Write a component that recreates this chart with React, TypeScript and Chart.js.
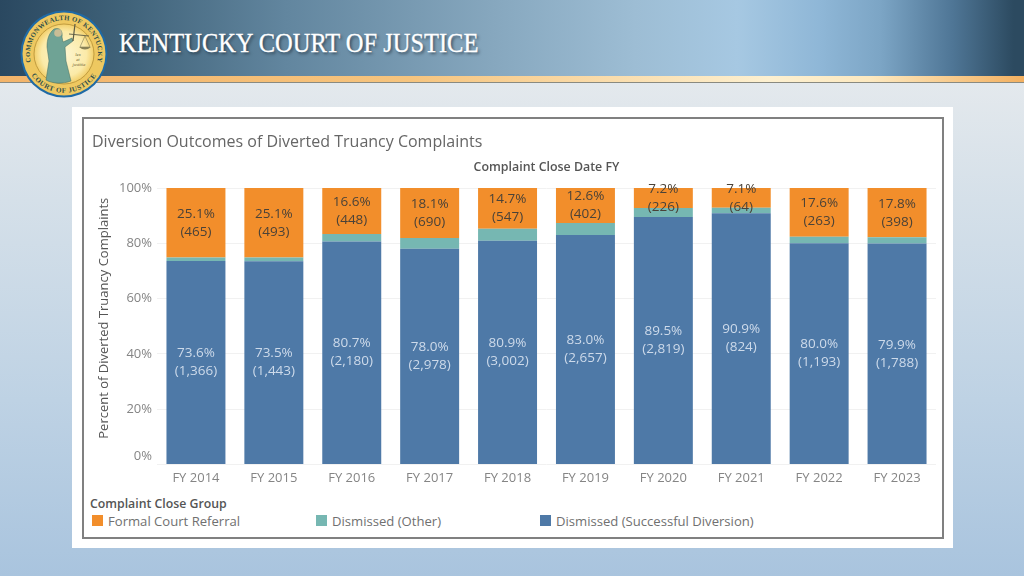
import React, { useEffect, useRef } from "react";
import { Chart, registerables } from "chart.js";

Chart.register(...registerables);

const categories = ["FY 2014", "FY 2015", "FY 2016", "FY 2017", "FY 2018", "FY 2019", "FY 2020", "FY 2021", "FY 2022", "FY 2023"];
const successPct = [73.6, 73.5, 80.7, 78.0, 80.9, 83.0, 89.5, 90.9, 80.0, 79.9];
const otherPct = [1.3, 1.4, 2.7, 3.9, 4.4, 4.4, 3.3, 2.0, 2.4, 2.3];
const formalPct = [25.1, 25.1, 16.6, 18.1, 14.7, 12.6, 7.2, 7.1, 17.6, 17.8];
const successCounts = ["1,366", "1,443", "2,180", "2,978", "3,002", "2,657", "2,819", "824", "1,193", "1,788"];
const formalCounts = ["465", "493", "448", "690", "547", "402", "226", "64", "263", "398"];
const yTicks = [0, 20, 40, 60, 80, 100];
const yAxisTitle = "Percent of Diverted Truancy Complaints";

const FONT = "'Open Sans', 'Noto Sans', sans-serif";

const segmentLabels = {
  id: "segmentLabels",
  afterDatasetsDraw(chart: any) {
    const ctx = chart.ctx;
    ctx.save();
    ctx.textAlign = "center";
    ctx.textBaseline = "middle";
    ctx.font = `13.5px ${FONT}`;
    chart.data.datasets.forEach((ds: any, di: number) => {
      if (!ds.counts) return;
      const meta = chart.getDatasetMeta(di);
      ctx.fillStyle = ds.labelColor;
      meta.data.forEach((bar: any, i: number) => {
        const cy = (bar.y + bar.base) / 2;
        ctx.fillText(`${ds.data[i].toFixed(1)}%`, bar.x, cy - 9);
        ctx.fillText(`(${ds.counts[i]})`, bar.x, cy + 9);
      });
    });
    // y-axis title: sits above the axis centre in the reference
    const y = chart.scales.y;
    ctx.translate(y.left + 12, (y.top + y.bottom) / 2 - 8);
    ctx.rotate(-Math.PI / 2);
    ctx.font = `13px ${FONT}`;
    ctx.fillStyle = "#555555";
    ctx.fillText(yAxisTitle, 0, 0);
    ctx.restore();
  },
};

function Logo() {
  return (
    <svg width="90" height="90" viewBox="0 0 90 90" style={{ position: "absolute", left: 19, top: 9 }}>
      <defs>
        <radialGradient id="inner" cx="50%" cy="50%" r="50%">
          <stop offset="0%" stopColor="#fdf6d2" />
          <stop offset="75%" stopColor="#fbeaa8" />
          <stop offset="100%" stopColor="#f2cf6a" />
        </radialGradient>
        <path id="topArc" d="M 15.5 62 A 34 34 0 1 1 74.5 62" />
        <path id="botArc" d="M 8.4 58.3 A 39 39 0 0 0 81.6 58.3" />
      </defs>
      <circle cx="45" cy="45" r="43.5" fill="#1f6aa5" />
      <circle cx="45" cy="45" r="41.5" fill="#eec860" />
      <circle cx="45" cy="45" r="30" fill="url(#inner)" stroke="#b58f35" strokeWidth="0.8" />
      <text fontFamily="'Liberation Serif', serif" fontSize="6.8" fill="#2f4f4a" fontWeight="bold" letterSpacing="0.3">
        <textPath href="#topArc" startOffset="50%" textAnchor="middle">COMMONWEALTH OF KENTUCKY</textPath>
      </text>
      <text fontFamily="'Liberation Serif', serif" fontSize="7" fill="#2f4f4a" fontWeight="bold" letterSpacing="0.6">
        <textPath href="#botArc" startOffset="50%" textAnchor="middle">COURT OF JUSTICE</textPath>
      </text>
      <path d="M35 20 C41 18 44 22 43 28 L44 33 L53 29 L54 32 L46 38 L47 52 L52 72 C44 75 34 75 27 71 L30 52 L28 38 C28 30 30 24 35 20 Z" fill="#6fa395" stroke="#3e6a60" strokeWidth="0.5" />
      <circle cx="39" cy="24" r="3.8" fill="#c9bd96" />
      <path d="M54 32 L56 15" stroke="#5b5a44" strokeWidth="1.2" />
      <path d="M50 25 L70 27" stroke="#5b5a44" strokeWidth="0.9" />
      <path d="M66 27 L61 38 L71 38 Z" fill="none" stroke="#6b6a4a" strokeWidth="0.5" />
      <path d="M60 38 Q66 43 72 38 Z" fill="#8a8256" />
      <text x="59" y="47" fontFamily="'Liberation Serif', serif" fontStyle="italic" fontSize="4.6" fill="#6b5d30" textAnchor="middle">lex</text>
      <text x="59" y="52" fontFamily="'Liberation Serif', serif" fontStyle="italic" fontSize="4.6" fill="#6b5d30" textAnchor="middle">et</text>
      <text x="60" y="57" fontFamily="'Liberation Serif', serif" fontStyle="italic" fontSize="4.6" fill="#6b5d30" textAnchor="middle">justitia</text>
    </svg>
  );
}

const legendItems = [
  { label: "Formal Court Referral", color: "#f28e2b", x: 92, tx: 108 },
  { label: "Dismissed (Other)", color: "#76b7b2", x: 316, tx: 332 },
  { label: "Dismissed (Successful Diversion)", color: "#4e79a7", x: 540, tx: 556 },
];

export default function App() {
  const ref = useRef<HTMLCanvasElement>(null);
  useEffect(() => {
    const chart = new Chart(ref.current as HTMLCanvasElement, {
      type: "bar",
      data: {
        labels: categories,
        datasets: [
          { label: "Dismissed (Successful Diversion)", data: successPct, backgroundColor: "#4e79a7", counts: successCounts, labelColor: "#cddaea" } as any,
          { label: "Dismissed (Other)", data: otherPct, backgroundColor: "#76b7b2" } as any,
          { label: "Formal Court Referral", data: formalPct, backgroundColor: "#f28e2b", counts: formalCounts, labelColor: "#4a4238" } as any,
        ],
      },
      options: {
        animation: false,
        responsive: false,
        maintainAspectRatio: false,
        layout: { padding: { left: 0, right: 0, top: 0, bottom: 0 } },
        plugins: {
          legend: { display: false },
          tooltip: { enabled: false },
          title: {
            display: true,
            text: "Diversion Outcomes of Diverted Truancy Complaints",
            align: "start",
            color: "#666666",
            font: { family: FONT, size: 16, weight: "normal" },
            padding: { top: 14, bottom: 8 },
          },
        },
        datasets: { bar: { categoryPercentage: 1, barPercentage: 0.757 } },
        scales: {
          x: {
            stacked: true,
            grid: { display: false },
            border: { display: false },
            ticks: { color: "#858585", font: { family: FONT, size: 13 }, padding: -2, maxRotation: 0 },
          },
          xTop: {
            position: "top",
            grid: { display: false },
            border: { display: false },
            ticks: { display: false },
            title: {
              display: true,
              text: "Complaint Close Date FY",
              color: "#555555",
              font: { family: FONT, size: 12.4, weight: "600" },
              padding: { top: 0, bottom: 5 },
            },
          },
          y: {
            stacked: true,
            min: 0,
            max: 100,
            afterBuildTicks(axis: any) {
              axis.ticks = yTicks.map((value) => ({ value }));
            },
            afterFit(axis: any) {
              axis.width = 65;
            },
            grid: { color: "#f1f1f1", drawTicks: false },
            border: { display: false },
            ticks: {
              color: "#858585",
              font: { family: FONT, size: 13 },
              padding: 5,
              // the 0% label sits above the baseline in the reference
              callback: (v: any) => (v === 0 ? ["0%", ""] : `${v}%`),
            },
          },
        },
      } as any,
      plugins: [segmentLabels],
    });
    return () => chart.destroy();
  }, []);

  return (
    <div style={{ position: "fixed", inset: 0, overflow: "hidden", width: 1024, height: 576, background: "linear-gradient(180deg, #e4e9ed 80px, #d5e0e9 200px, #bed2e4 400px, #a9c4de 576px)" }}>
      <div style={{ position: "absolute", left: 0, top: 0, width: 1024, height: 76, background: "linear-gradient(90deg, #2a4860 0%, #3f6279 12%, #62869f 28%, #86a7be 48%, #9dbdd4 62%, #a6c8e2 72%, #8fb7d7 80%, #7ca5c5 86%, #4f7696 93%, #2c4a60 99%)" }} />
      <div style={{ position: "absolute", left: 0, top: 76, width: 1024, height: 7, background: "linear-gradient(90deg, #f3b46a 0%, #f6c47e 40%, #fdf0d0 75%, #fde9c0 85%, #f3b060 100%)", borderBottom: "1px solid #8a8a80", boxSizing: "border-box" }} />
      <Logo />
      <div style={{ position: "absolute", left: 119, top: 28, fontFamily: "'Liberation Serif', serif", fontSize: 27, lineHeight: "30px", color: "#fff", whiteSpace: "nowrap", transform: "scaleX(0.906)", transformOrigin: "left top", WebkitTextStroke: "0.3px #fff", textShadow: "2px 2px 3px rgba(20,30,40,0.6)" }}>KENTUCKY COURT OF JUSTICE</div>
      <div style={{ position: "absolute", left: 72, top: 107, width: 881, height: 441, background: "#fff" }} />
      <div style={{ position: "absolute", left: 82, top: 117, width: 862, height: 422, border: "2px solid #808080", boxSizing: "border-box" }} />
      <canvas ref={ref} width={844} height={366} style={{ position: "absolute", left: 92, top: 119, width: 844, height: 366 }} />
      <div style={{ position: "absolute", left: 90, top: 495, fontFamily: FONT, fontSize: 12.3, fontWeight: 600, color: "#555", whiteSpace: "nowrap" }}>Complaint Close Group</div>
      {legendItems.map((it) => (
        <React.Fragment key={it.label}>
          <div style={{ position: "absolute", left: it.x, top: 515, width: 11, height: 11, background: it.color }} />
          <div style={{ position: "absolute", left: it.tx, top: 512, fontFamily: FONT, fontSize: 13.1, color: "#707070", whiteSpace: "nowrap" }}>{it.label}</div>
        </React.Fragment>
      ))}
    </div>
  );
}
